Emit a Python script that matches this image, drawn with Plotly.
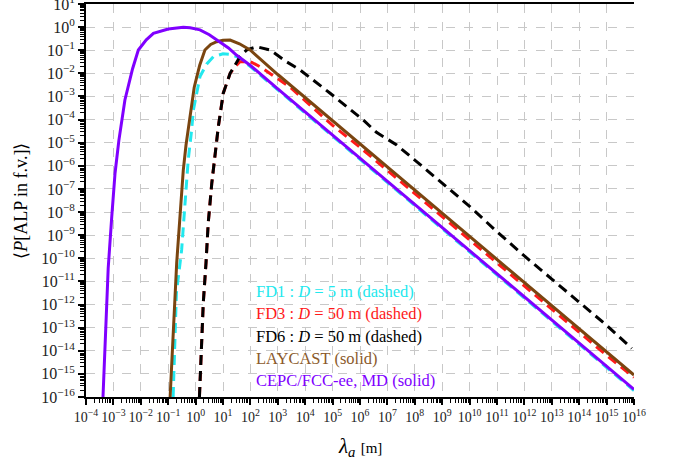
import numpy as np
import plotly.graph_objects as go

# ---- data (log10 of values) ----
cepc_logx = [-3.38, -3.3, -3.19, -3.06, -2.94, -2.8, -2.58, -2.3, -2.09, -1.8, -1.54, -1.0, -0.45, -0.2,
             0.16, 0.5, 0.77, 1.2, 1.5, 2.0, 3, 4, 5, 6, 7, 8, 9, 10, 11, 12, 13, 14, 15, 16]
cepc_logy = [-16.0, -13.3, -10.43, -8.2, -6.32, -4.9, -3.15, -1.8, -0.99, -0.55, -0.27, -0.08, -0.01, -0.03,
             -0.12, -0.33, -0.56, -0.9, -1.22, -1.66, -2.67, -3.67, -4.67, -5.67, -6.67, -7.67, -8.67, -9.67,
             -10.67, -11.67, -12.67, -13.67, -14.67, -15.67]

lay_logx = [-0.93, -0.8, -0.69, -0.57, -0.45, -0.35, -0.2, -0.05, 0.15, 0.34, 0.55, 0.77, 1.0, 1.26, 1.6,
            1.99, 3, 4, 5, 6, 7, 8, 9, 10, 11, 12, 13, 14, 15, 16]
lay_logy = [-16.0, -12.5, -10.2, -8.2, -6.2, -5.1, -3.8, -2.6, -1.65, -0.99, -0.75, -0.63, -0.57, -0.56, -0.72,
            -0.99, -2.05, -3.05, -4.05, -5.05, -6.05, -7.05, -8.06, -9.06, -10.07, -11.06, -12.06, -13.05,
            -14.05, -15.05]

fd1_logx = [-0.82, -0.7, -0.51, -0.39, -0.27, -0.15, -0.08, 0.16, 0.4, 0.65, 1.0, 1.3, 1.6, 2.0,
            3, 4, 5, 6, 7, 8, 9, 10, 11, 12, 13, 14, 15, 16]
fd1_logy = [-16.0, -11.5, -9.64, -7.77, -5.75, -4.5, -3.58, -2.14, -1.6, -1.28, -1.15, -1.18, -1.33, -1.71,
            -2.72, -3.72, -4.72, -5.72, -6.72, -7.72, -8.72, -9.72, -10.72, -11.72, -12.72, -13.72, -14.72, -15.72]

fd3_logx = [0.14, 0.22, 0.28, 0.38, 0.46, 0.59, 0.74, 0.83, 1.01, 1.26, 1.45, 1.62, 1.99, 2.35, 3.45,
            4, 5, 6, 7, 8, 9, 10, 11, 12, 13, 14, 15, 16]
fd3_logy = [-16.0, -13.67, -11.94, -10.2, -8.49, -6.76, -5.03, -4.3, -2.86, -2.0, -1.7, -1.5, -1.49, -1.71,
            -2.6, -3.2, -4.25, -5.2, -6.2, -7.22, -8.2, -9.2, -10.22, -11.2, -12.2, -13.2, -14.2, -15.15]

fd6_logx = [0.14, 0.22, 0.28, 0.38, 0.46, 0.59, 0.74, 0.83, 1.01, 1.26, 1.62, 1.86, 2.23, 2.72, 3.32, 3.81,
            4.91, 6.12, 6.6, 7.0, 7.34, 8, 9, 10, 11, 12, 13, 14, 15, 15.92]
fd6_logy = [-16.0, -13.67, -11.94, -10.2, -8.49, -6.76, -5.03, -4.3, -2.86, -2.0, -1.28, -0.99, -0.85, -0.99,
            -1.5, -1.85, -2.86, -4.02, -4.55, -4.85, -5.1, -5.75, -6.75, -7.75, -8.85, -9.9, -10.9, -11.9,
            -12.9, -13.9]

x_exps = list(range(-4, 17))
y_exps = list(range(-16, 2))
x_ticktext = ["10<sup>\u2212%d</sup>" % -e if e < 0 else "10<sup>%d</sup>" % e for e in x_exps]
y_ticktext = ["10<sup>\u2212%d</sup>" % -e if e < 0 else "10<sup>%d</sup>" % e for e in y_exps]

legend_texts = ["FD1 : <i>D</i> = 5 m (dashed)", "FD3 : <i>D</i> = 50 m (dashed)",
                "FD6 : <i>D</i> = 50 m (dashed)", "LAYCAST (solid)", "CEPC/FCC-ee, MD (solid)"]

C_CYAN = "#22e8ee"
C_RED = "#ff1a1a"
C_BLACK = "#000000"
C_BROWN = "#7a4510"
C_PURPLE = "#8000ff"
legend_colors = [C_CYAN, C_RED, C_BLACK, "#8b5a2b", C_PURPLE]

def pw(a):
    return [10.0 ** v for v in a]

fig = go.Figure()
fig.add_trace(go.Scatter(x=pw(fd1_logx), y=pw(fd1_logy), mode="lines",
                         line=dict(color=C_CYAN, width=3, dash="10px,6px")))
fig.add_trace(go.Scatter(x=pw(fd3_logx), y=pw(fd3_logy), mode="lines",
                         line=dict(color=C_RED, width=3, dash="10px,6px")))
fig.add_trace(go.Scatter(x=pw(fd6_logx), y=pw(fd6_logy), mode="lines",
                         line=dict(color=C_BLACK, width=3, dash="10px,6px")))
fig.add_trace(go.Scatter(x=pw(lay_logx), y=pw(lay_logy), mode="lines",
                         line=dict(color=C_BROWN, width=3)))
fig.add_trace(go.Scatter(x=pw(cepc_logx), y=pw(cepc_logy), mode="lines",
                         line=dict(color=C_PURPLE, width=3)))

minor_x = [m * 10.0 ** e for e in x_exps[:-1] for m in range(2, 10)]
minor_y = [m * 10.0 ** e for e in y_exps[:-1] for m in range(2, 10)]

font_family = "Liberation Serif, Times New Roman, serif"

fig.update_xaxes(type="log", range=[-4, 16], tickmode="array",
                 tickvals=[10.0 ** e for e in x_exps], ticktext=x_ticktext, tickangle=0,
                 automargin=False, ticklabeloverflow="allow",
                 ticks="outside", ticklen=6, tickwidth=1.5, tickcolor="black",
                 minor=dict(tickmode="array", tickvals=minor_x, ticks="outside", ticklen=4,
                            tickwidth=1, tickcolor="black", showgrid=False),
                 showline=True, linecolor="black", linewidth=2, mirror=True,
                 showgrid=True, gridcolor="#c8c8c8", gridwidth=1, griddash="dash",
                 tickfont=dict(family=font_family, size=14, color="#222"),
                 zeroline=False)
fig.update_yaxes(type="log", range=[-16, 1], tickmode="array",
                 tickvals=[10.0 ** e for e in y_exps], ticktext=y_ticktext,
                 automargin=False, ticklabeloverflow="allow",
                 ticks="outside", ticklen=6, tickwidth=1.5, tickcolor="black",
                 minor=dict(tickmode="array", tickvals=minor_y, ticks="outside", ticklen=4,
                            tickwidth=1, tickcolor="black", showgrid=False),
                 showline=True, linecolor="black", linewidth=2, mirror=False,
                 showgrid=True, gridcolor="#c8c8c8", gridwidth=1, griddash="dash",
                 tickfont=dict(family=font_family, size=16, color="#222"),
                 zeroline=False)

for i, (t, c) in enumerate(zip(legend_texts, legend_colors)):
    fig.add_annotation(x=0.306, y=0.268 - i * 0.0565, xref="paper", yref="paper",
                       text=t, showarrow=False, xanchor="left", yanchor="middle",
                       font=dict(family=font_family, size=16.5, color=c))

fig.add_annotation(x=0.5, y=-0.09, xref="paper", yref="paper", showarrow=False,
                   xanchor="center", yanchor="top",
                   text="<i>\u03bb<sub>a</sub></i> <span style='font-size:15px'>[m]</span>",
                   font=dict(family=font_family, size=21, color="black"))
fig.add_annotation(x=-0.12, y=0.5, xref="paper", yref="paper", showarrow=False,
                   xanchor="center", yanchor="middle", textangle=-90,
                   text="\u27e8<i>P</i>[ALP in f.v.]\u27e9",
                   font=dict(family=font_family, size=18, color="black"))

fig.update_layout(width=673, height=459, showlegend=False,
                  margin=dict(l=86, r=39, t=4, b=62),
                  plot_bgcolor="white", paper_bgcolor="white",
                  font=dict(family=font_family))

fig.write_html("out.html", config={"displayModeBar": False},
               post_script="document.body.style.margin='0px';")
